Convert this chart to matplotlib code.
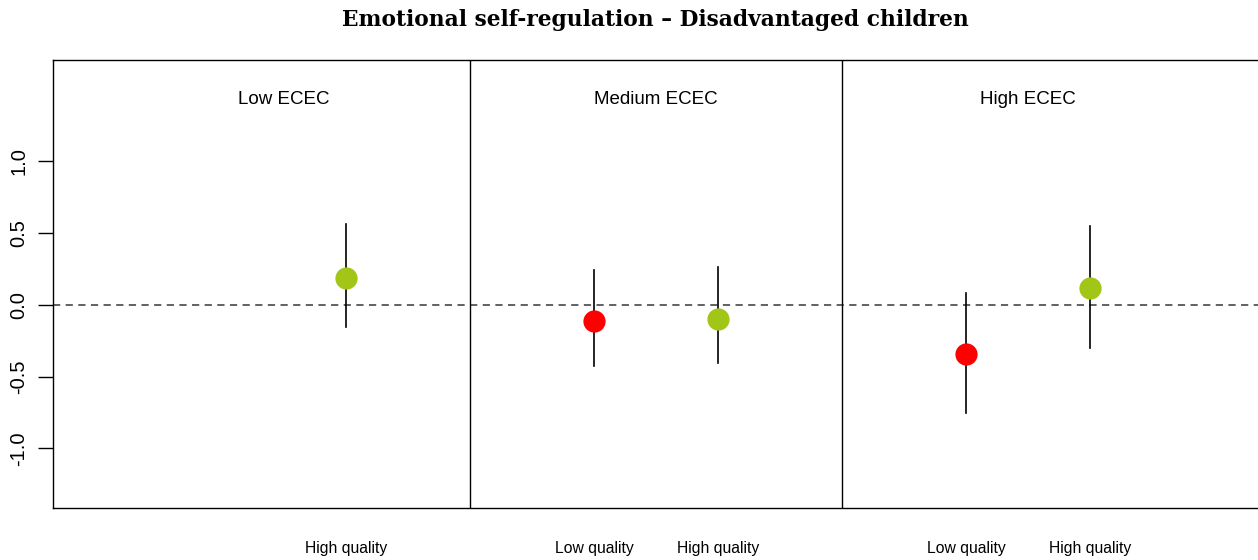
import matplotlib
matplotlib.use("Agg")
import matplotlib.pyplot as plt

# Data
panels = ["Low ECEC", "Medium ECEC", "High ECEC"]
positions = [2, 4, 5, 7, 8]
labels = ["High quality", "Low quality", "High quality", "Low quality", "High quality"]
estimates = [0.188, -0.111, -0.098, -0.341, 0.118]
ci_low = [-0.153, -0.425, -0.404, -0.753, -0.300]
ci_high = [0.564, 0.244, 0.265, 0.084, 0.550]
colors = ["#A2C617", "#FF0000", "#A2C617", "#FF0000", "#A2C617"]
panel_centers = [1.5, 4.5, 7.5]
separators = [3, 6]
yticks = [-1.0, -0.5, 0.0, 0.5, 1.0]

fig = plt.figure(figsize=(12.58, 5.6), dpi=100)
ax = fig.add_axes([53/1258, 52/560, 1 - 53/1258, 448/560])
ax.set_xlim(-0.363, 9.355)
ax.set_ylim(-1.415, 1.707)

ax.axhline(0, color="#555555", linestyle=(0, (4, 3)), linewidth=1.3, zorder=1)
for s in separators:
    ax.axvline(s, color="black", linewidth=1.0, zorder=1)

for x, e, lo, hi, c in zip(positions, estimates, ci_low, ci_high, colors):
    ax.plot([x, x], [lo, hi], color="black", linewidth=1.2, zorder=2)
    ax.plot(x, e, "o", color=c, markersize=16, markeredgewidth=0, zorder=3)

for xc, name in zip(panel_centers, panels):
    ax.text(xc, 1.435, name, ha="center", va="center", fontsize=13.5,
            family="Liberation Sans")

ax.set_xticks(positions)
ax.set_xticklabels(labels, fontsize=11.3, family="Liberation Sans")
ax.tick_params(axis="x", length=0, pad=24)

ax.set_yticks(yticks)
ax.set_yticklabels([f"{v:.1f}" for v in yticks], rotation=90, va="center",
                   fontsize=14.5, family="Liberation Sans")
ax.tick_params(axis="y", length=11, width=1, pad=7)

ax.spines["right"].set_visible(False)
for sp in ["left", "top", "bottom"]:
    ax.spines[sp].set_linewidth(1.0)

fig.text(655/1258, 1 - 20/560, "Emotional self-regulation \u2013 Disadvantaged children",
         ha="center", va="center", fontsize=15.7, fontweight="bold",
         family="DejaVu Serif")

fig.savefig("out.png", dpi=100)
